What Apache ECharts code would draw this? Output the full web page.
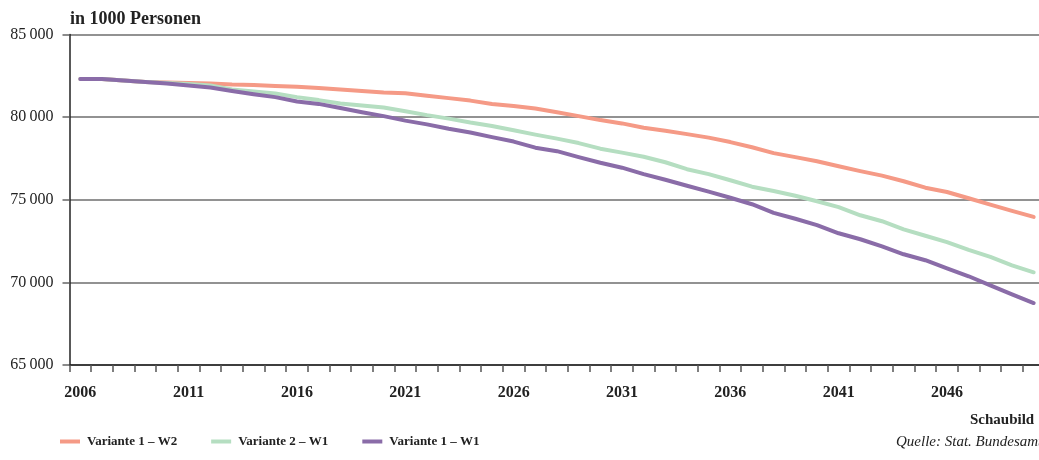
<!DOCTYPE html>
<html>
<head>
<meta charset="utf-8">
<script src="https://cdn.jsdelivr.net/npm/echarts@6/dist/echarts.min.js"></script>
<style>
html,body{margin:0;padding:0;background:#fff;}
#chart{width:1039px;height:460px;}
</style>
</head>
<body>
<div id="chart"></div>
<script>
const years = [];
for (let y = 2006; y <= 2050; y++) years.push(String(y));

const seriesNames = ['Variante 1 – W2', 'Variante 2 – W1', 'Variante 1 – W1'];

const variante1W2 = [82300,82300,82210,82120,82090, 82060,82040,81970,81940,81880,
  81840,81760,81670,81580,81490, 81440,81300,81150,81000,80790,
  80670,80520,80300,80060,79820, 79620,79360,79180,78970,78760,
  78490,78180,77820,77580,77330, 77030,76730,76460,76120,75730,
  75470,75090,74700,74330,73960];

const variante2W1 = [82300,82300,82210,82120,82060, 82000,81910,81670,81550,81430,
  81210,81030,80820,80700,80580, 80360,80120,79910,79670,79460,
  79210,78940,78700,78430,78090, 77850,77600,77270,76850,76550,
  76180,75790,75530,75240,74910, 74550,74060,73700,73210,72820,
  72440,71970,71540,71030,70610];

const variante1W1 = [82300,82300,82210,82120,82030, 81910,81790,81580,81390,81210,
  80950,80800,80550,80300,80060, 79790,79560,79300,79070,78790,
  78520,78150,77940,77580,77240, 76940,76550,76210,75850,75490,
  75120,74730,74210,73850,73460, 72970,72610,72180,71700,71340,
  70850,70370,69820,69270,68750];

const colors = ['#F59A86', '#B5DEC1', '#8A6CA8'];
const FONT = '"Liberation Serif", "DejaVu Serif", serif';

const chart = echarts.init(document.getElementById('chart'), null, {renderer: 'canvas'});

const option = {
  backgroundColor: '#ffffff',
  animation: false,
  grid: {
    left: 69.5, right: -5.5, top: 34.5, bottom: 95,
    containLabel: false, outerBoundsMode: 'none'
  },
  legend: {
    left: 60, top: 435, padding: 0,
    itemWidth: 20, itemHeight: 4, itemGap: 34,
    icon: 'rect',
    data: seriesNames,
    textStyle: {fontFamily: FONT, fontSize: 13, fontWeight: 'bold', color: '#222', padding: [0,0,0,2]}
  },
  xAxis: {
    type: 'category',
    data: years,
    boundaryGap: true,
    axisLine: {show: true, lineStyle: {color: '#222', width: 1.5}},
    axisTick: {show: true, interval: 0, length: 7, lineStyle: {color: '#555', width: 1.5}},
    axisLabel: {interval: 4, margin: 20, fontFamily: FONT, fontSize: 16, fontWeight: 'bold', color: '#222'},
    splitLine: {show: false}
  },
  yAxis: {
    type: 'value',
    min: 65000, max: 85000, interval: 5000,
    axisLine: {show: true, lineStyle: {color: '#222', width: 1.5}},
    axisTick: {show: true, length: 7, lineStyle: {color: '#666', width: 1.5}},
    axisLabel: {
      margin: 16, fontFamily: FONT, fontSize: 16, color: '#222',
      formatter: v => String(v).replace(/(\d{2})(\d{3})$/, '$1\u2009$2')
    },
    splitLine: {show: true, lineStyle: {color: '#6e6e6e', width: 1.5}}
  },
  graphic: [
    {type: 'text', left: 70, top: 10, style: {text: 'in 1000 Personen', fontFamily: FONT, fontSize: 18, fontWeight: 'bold', fill: '#222'}},
    {type: 'text', left: 970, top: 413, style: {text: 'Schaubild 1', fontFamily: FONT, fontSize: 15, fontWeight: 'bold', fill: '#222'}},
    {type: 'text', left: 896, top: 435, style: {text: 'Quelle: Stat. Bundesamt', fontFamily: FONT, fontSize: 15, fontStyle: 'italic', fill: '#222'}}
  ],
  series: [
    {name: seriesNames[0], type: 'line', data: variante1W2, symbol: 'none', lineStyle: {width: 4, color: colors[0], join: 'round', cap: 'round'}, itemStyle: {color: colors[0]}},
    {name: seriesNames[1], type: 'line', data: variante2W1, symbol: 'none', lineStyle: {width: 4, color: colors[1], join: 'round', cap: 'round'}, itemStyle: {color: colors[1]}},
    {name: seriesNames[2], type: 'line', data: variante1W1, symbol: 'none', lineStyle: {width: 4, color: colors[2], join: 'round', cap: 'round'}, itemStyle: {color: colors[2]}}
  ]
};
chart.setOption(option);
</script>
</body>
</html>
